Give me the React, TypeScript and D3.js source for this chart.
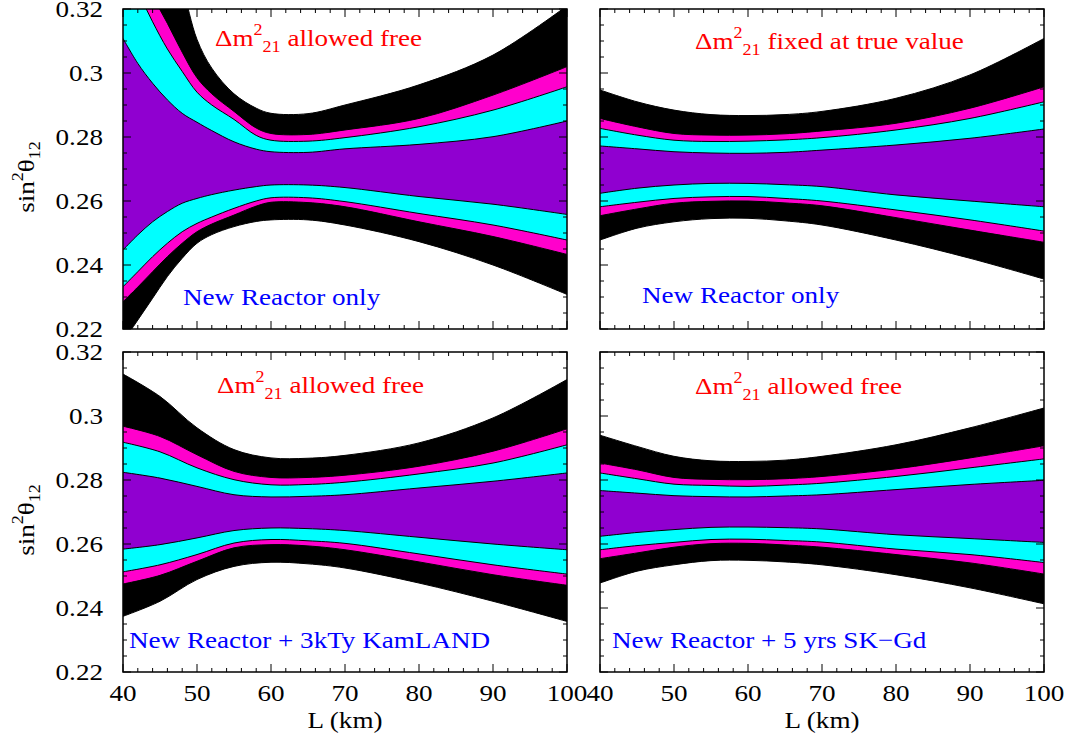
import React from 'react';
import * as d3 from 'd3';

// ---------- Data (sin^2 theta12 band edges vs baseline L in km) ----------
// Top-left: New Reactor only, dm21 free
const L_TL = [40, 42, 44, 46, 48, 50, 52, 55, 58, 60, 65, 70, 80, 90, 100];
const tlBlackHi = [0.390, 0.372, 0.355, 0.340, 0.327, 0.3105, 0.3015, 0.2935, 0.2890, 0.2874, 0.2873, 0.2900, 0.2963, 0.3056, 0.3210];
const tlMagentaHi = [0.345, 0.333, 0.324, 0.3155, 0.3065, 0.2985, 0.2935, 0.2880, 0.2828, 0.2811, 0.2808, 0.2822, 0.2858, 0.2931, 0.3020];
const tlCyanHi = [0.335, 0.3255, 0.316, 0.3075, 0.3005, 0.2940, 0.2900, 0.2855, 0.2805, 0.2790, 0.2787, 0.2798, 0.2832, 0.2884, 0.2957];
const tlPurpleHi = [0.3108, 0.3030, 0.2968, 0.2916, 0.2874, 0.2846, 0.2820, 0.2785, 0.2762, 0.2754, 0.2752, 0.2763, 0.2777, 0.2801, 0.2850];
const tlPurpleLo = [0.2447, 0.2494, 0.2535, 0.2567, 0.2593, 0.2608, 0.2620, 0.2634, 0.2645, 0.2650, 0.2650, 0.2642, 0.2614, 0.2590, 0.2558];
const tlCyanLo = [0.2332, 0.2379, 0.2426, 0.2468, 0.2504, 0.2530, 0.2550, 0.2577, 0.2600, 0.2610, 0.2610, 0.2598, 0.2561, 0.2525, 0.2478];
const tlMagentaLo = [0.2285, 0.2331, 0.2379, 0.2426, 0.2468, 0.2504, 0.2528, 0.2556, 0.2584, 0.2596, 0.2595, 0.2582, 0.2535, 0.2489, 0.2433];
const tlBlackLo = [0.2160, 0.2228, 0.2296, 0.2364, 0.2421, 0.2468, 0.2495, 0.2520, 0.2536, 0.2541, 0.2541, 0.2525, 0.2473, 0.2400, 0.2308];

// Common grid for the other three panels
const L_GRID = [40, 45, 50, 55, 60, 65, 70, 80, 90, 100];

// Top-right: New Reactor only, dm21 fixed
const trBlackHi = [0.2947, 0.2910, 0.2884, 0.2870, 0.2867, 0.2870, 0.2880, 0.2921, 0.2994, 0.3108];
const trMagentaHi = [0.2858, 0.2832, 0.2811, 0.2806, 0.2806, 0.2810, 0.2819, 0.2843, 0.2890, 0.2957];
const trCyanHi = [0.2827, 0.2806, 0.2790, 0.2786, 0.2787, 0.2791, 0.2798, 0.2822, 0.2858, 0.2910];
const trPurpleHi = [0.2772, 0.2763, 0.2754, 0.2750, 0.2749, 0.2752, 0.2759, 0.2775, 0.2796, 0.2825];
const trPurpleLo = [0.2624, 0.2640, 0.2650, 0.2655, 0.2655, 0.2651, 0.2645, 0.2619, 0.2600, 0.2582];
const trCyanLo = [0.2582, 0.2596, 0.2608, 0.2613, 0.2614, 0.2608, 0.2600, 0.2572, 0.2541, 0.2506];
const trMagentaLo = [0.2554, 0.2575, 0.2593, 0.2599, 0.2600, 0.2594, 0.2585, 0.2548, 0.2509, 0.2471];
const trBlackLo = [0.2478, 0.2515, 0.2535, 0.2545, 0.2546, 0.2538, 0.2525, 0.2478, 0.2421, 0.2356];

// Bottom-left: New Reactor + 3kTy KamLAND
const blBlackHi = [0.3131, 0.3061, 0.2963, 0.2895, 0.2869, 0.2868, 0.2877, 0.2916, 0.2994, 0.3114];
const blMagentaHi = [0.2968, 0.2936, 0.2879, 0.2827, 0.2808, 0.2808, 0.2815, 0.2843, 0.2890, 0.2960];
const blCyanHi = [0.2918, 0.2888, 0.2838, 0.2801, 0.2785, 0.2786, 0.2793, 0.2819, 0.2853, 0.2910];
const blPurpleHi = [0.2824, 0.2806, 0.2780, 0.2754, 0.2747, 0.2749, 0.2754, 0.2775, 0.2796, 0.2822];
const blPurpleLo = [0.2584, 0.2598, 0.2619, 0.2642, 0.2650, 0.2648, 0.2642, 0.2621, 0.2600, 0.2582];
const blCyanLo = [0.2513, 0.2535, 0.2567, 0.2603, 0.2614, 0.2610, 0.2602, 0.2569, 0.2535, 0.2506];
const blMagentaLo = [0.2475, 0.2502, 0.2546, 0.2588, 0.2598, 0.2594, 0.2582, 0.2544, 0.2504, 0.2471];
const blBlackLo = [0.2374, 0.2421, 0.2489, 0.2530, 0.2543, 0.2538, 0.2525, 0.2478, 0.2421, 0.2358];

// Bottom-right: New Reactor + 5 yrs SK-Gd
const brBlackHi = [0.2940, 0.2905, 0.2874, 0.2860, 0.2858, 0.2862, 0.2874, 0.2910, 0.2963, 0.3025];
const brMagentaHi = [0.2853, 0.2832, 0.2808, 0.2802, 0.2801, 0.2804, 0.2811, 0.2835, 0.2869, 0.2907];
const brCyanHi = [0.2822, 0.2804, 0.2787, 0.2783, 0.2780, 0.2784, 0.2790, 0.2811, 0.2838, 0.2866];
const brPurpleHi = [0.2767, 0.2759, 0.2751, 0.2748, 0.2747, 0.2750, 0.2754, 0.2770, 0.2786, 0.2799];
const brPurpleLo = [0.2624, 0.2636, 0.2645, 0.2652, 0.2653, 0.2651, 0.2647, 0.2629, 0.2617, 0.2605];
const brCyanLo = [0.2582, 0.2595, 0.2605, 0.2614, 0.2615, 0.2611, 0.2606, 0.2584, 0.2567, 0.2542];
const brMagentaLo = [0.2554, 0.2572, 0.2590, 0.2601, 0.2602, 0.2597, 0.2590, 0.2567, 0.2541, 0.2506];
const brBlackLo = [0.2478, 0.2515, 0.2535, 0.2548, 0.2549, 0.2544, 0.2535, 0.2504, 0.2463, 0.2413];

const xTickValues = [40, 50, 60, 70, 80, 90, 100];
const xTickLabels = ['40', '50', '60', '70', '80', '90', '100'];
const yTickValues = [0.22, 0.24, 0.26, 0.28, 0.30, 0.32];
const yTickLabels = ['0.22', '0.24', '0.26', '0.28', '0.3', '0.32'];

const redTexts = ['allowed free', 'fixed at true value', 'allowed free', 'allowed free'];
const blueTexts = ['New Reactor only', 'New Reactor only', 'New Reactor + 3kTy KamLAND', 'New Reactor + 5 yrs SK\u2212Gd'];

const COL = { black: '#000000', magenta: '#ff00cc', cyan: '#00ffff', purple: '#9000d0' };
const FONT = '"Liberation Serif", "Times New Roman", serif';
const SX = 1.13;

const PW = 444;
const PH = 320;

type Band = { lo: number[]; hi: number[]; color: string };
type PanelSpec = {
  id: string;
  x0: number;
  y0: number;
  L: number[];
  bands: Band[];
  red: string;
  redPos: [number, number];
  blue: string;
  bluePos: [number, number];
  yLabels: boolean;
  xLabels: boolean;
};

const panels: PanelSpec[] = [
  {
    id: 'tl', x0: 123, y0: 9, L: L_TL,
    bands: [
      { lo: tlBlackLo, hi: tlBlackHi, color: COL.black },
      { lo: tlMagentaLo, hi: tlMagentaHi, color: COL.magenta },
      { lo: tlCyanLo, hi: tlCyanHi, color: COL.cyan },
      { lo: tlPurpleLo, hi: tlPurpleHi, color: COL.purple },
    ],
    red: redTexts[0], redPos: [215, 46], blue: blueTexts[0], bluePos: [183, 305],
    yLabels: true, xLabels: false,
  },
  {
    id: 'tr', x0: 600, y0: 9, L: L_GRID,
    bands: [
      { lo: trBlackLo, hi: trBlackHi, color: COL.black },
      { lo: trMagentaLo, hi: trMagentaHi, color: COL.magenta },
      { lo: trCyanLo, hi: trCyanHi, color: COL.cyan },
      { lo: trPurpleLo, hi: trPurpleHi, color: COL.purple },
    ],
    red: redTexts[1], redPos: [695, 49], blue: blueTexts[1], bluePos: [642, 303],
    yLabels: false, xLabels: false,
  },
  {
    id: 'bl', x0: 123, y0: 352, L: L_GRID,
    bands: [
      { lo: blBlackLo, hi: blBlackHi, color: COL.black },
      { lo: blMagentaLo, hi: blMagentaHi, color: COL.magenta },
      { lo: blCyanLo, hi: blCyanHi, color: COL.cyan },
      { lo: blPurpleLo, hi: blPurpleHi, color: COL.purple },
    ],
    red: redTexts[2], redPos: [217, 393], blue: blueTexts[2], bluePos: [129, 648],
    yLabels: true, xLabels: true,
  },
  {
    id: 'br', x0: 600, y0: 352, L: L_GRID,
    bands: [
      { lo: brBlackLo, hi: brBlackHi, color: COL.black },
      { lo: brMagentaLo, hi: brMagentaHi, color: COL.magenta },
      { lo: brCyanLo, hi: brCyanHi, color: COL.cyan },
      { lo: brPurpleLo, hi: brPurpleHi, color: COL.purple },
    ],
    red: redTexts[3], redPos: [695, 394], blue: blueTexts[3], bluePos: [612, 648],
    yLabels: false, xLabels: true,
  },
];

function SText(props: { x: number; y: number; anchor?: string; fill?: string; size?: number; children: React.ReactNode }) {
  const { x, y, anchor = 'start', fill = '#000', size = 24, children } = props;
  return (
    <g transform={`translate(${x},${y}) scale(${SX},1)`}>
      <text x={0} y={0} textAnchor={anchor} fontFamily={FONT} fontSize={size} fill={fill}>
        {children}
      </text>
    </g>
  );
}

function Panel({ p }: { p: PanelSpec }) {
  const x = d3.scaleLinear().domain([40, 100]).range([p.x0, p.x0 + PW]);
  const y = d3.scaleLinear().domain([0.22, 0.32]).range([p.y0 + PH, p.y0]);
  const xMinor = d3.range(40, 101, 2);
  const yMinor = d3.range(0, 21).map((i) => 0.22 + i * 0.005);
  const clipId = `clip-${p.id}`;
  const curve = d3.curveCatmullRom.alpha(0.5);

  const paths = p.bands.map((b) => {
    const gen = d3
      .area<number>()
      .x((d) => x(d))
      .y0((_d, i) => y(b.lo[i]))
      .y1((_d, i) => y(b.hi[i]))
      .curve(curve);
    const top = d3.line<number>().x((d) => x(d)).y((_d, i) => y(b.hi[i])).curve(curve);
    const bot = d3.line<number>().x((d) => x(d)).y((_d, i) => y(b.lo[i])).curve(curve);
    return { area: gen(p.L) || '', top: top(p.L) || '', bot: bot(p.L) || '', color: b.color };
  });

  return (
    <g>
      <defs>
        <clipPath id={clipId}>
          <rect x={p.x0} y={p.y0} width={PW} height={PH} />
        </clipPath>
      </defs>
      <g clipPath={`url(#${clipId})`}>
        {paths.map((pa, i) => (
          <g key={i}>
            <path d={pa.area} fill={pa.color} stroke="none" />
            <path d={pa.top} fill="none" stroke="#000" strokeWidth={1} />
            <path d={pa.bot} fill="none" stroke="#000" strokeWidth={1} />
          </g>
        ))}
      </g>
      {xMinor.map((v) => {
        const len = v % 10 === 0 ? 8 : 4;
        const xx = x(v);
        return (
          <g key={`xt${v}`} stroke="#000" strokeWidth={1}>
            <line x1={xx} x2={xx} y1={p.y0 + PH} y2={p.y0 + PH - len} />
            <line x1={xx} x2={xx} y1={p.y0} y2={p.y0 + len} />
          </g>
        );
      })}
      {yMinor.map((v, i) => {
        const len = i % 4 === 0 ? 8 : 4;
        const yy = y(v);
        return (
          <g key={`yt${i}`} stroke="#000" strokeWidth={1}>
            <line x1={p.x0} x2={p.x0 + len} y1={yy} y2={yy} />
            <line x1={p.x0 + PW} x2={p.x0 + PW - len} y1={yy} y2={yy} />
          </g>
        );
      })}
      <rect x={p.x0} y={p.y0} width={PW} height={PH} fill="none" stroke="#000" strokeWidth={1.5} />
      {p.yLabels &&
        yTickValues.map((v, i) => (
          <SText key={`yl${i}`} x={p.x0 - 20} y={y(v) + 8} anchor="end">
            {yTickLabels[i]}
          </SText>
        ))}
      {p.xLabels &&
        xTickValues.map((v, i) => (
          <SText key={`xl${i}`} x={x(v)} y={p.y0 + PH + 29} anchor="middle">
            {xTickLabels[i]}
          </SText>
        ))}
      {p.xLabels && (
        <SText x={p.x0 + PW / 2} y={728} anchor="middle">
          L (km)
        </SText>
      )}
      {p.yLabels && (
        <g transform={`translate(34,${p.y0 + 168}) rotate(-90) scale(${SX},1)`}>
          <text x={0} y={0} textAnchor="middle" fontFamily={FONT} fontSize={24} fill="#000">
            <tspan>sin</tspan>
            <tspan dy={-11} fontSize={16}>2</tspan>
            <tspan dy={11}>θ</tspan>
            <tspan dy={6} fontSize={16}>12</tspan>
          </text>
        </g>
      )}
      <SText x={p.redPos[0]} y={p.redPos[1]} fill="#ff0000">
        <tspan>Δm</tspan>
        <tspan dy={-11} fontSize={16}>2</tspan>
        <tspan dy={17} fontSize={16}>21</tspan>
        <tspan dy={-6}>{' ' + p.red}</tspan>
      </SText>
      <SText x={p.bluePos[0]} y={p.bluePos[1]} fill="#0000ff">
        {p.blue}
      </SText>
    </g>
  );
}

export default function App() {
  return (
    <svg
      width={1065}
      height={742}
      viewBox="0 0 1065 742"
      style={{ position: 'absolute', left: 0, top: 0, background: '#fff' }}
    >
      <rect x={0} y={0} width={1065} height={742} fill="#fff" />
      {panels.map((p) => (
        <Panel key={p.id} p={p} />
      ))}
    </svg>
  );
}
